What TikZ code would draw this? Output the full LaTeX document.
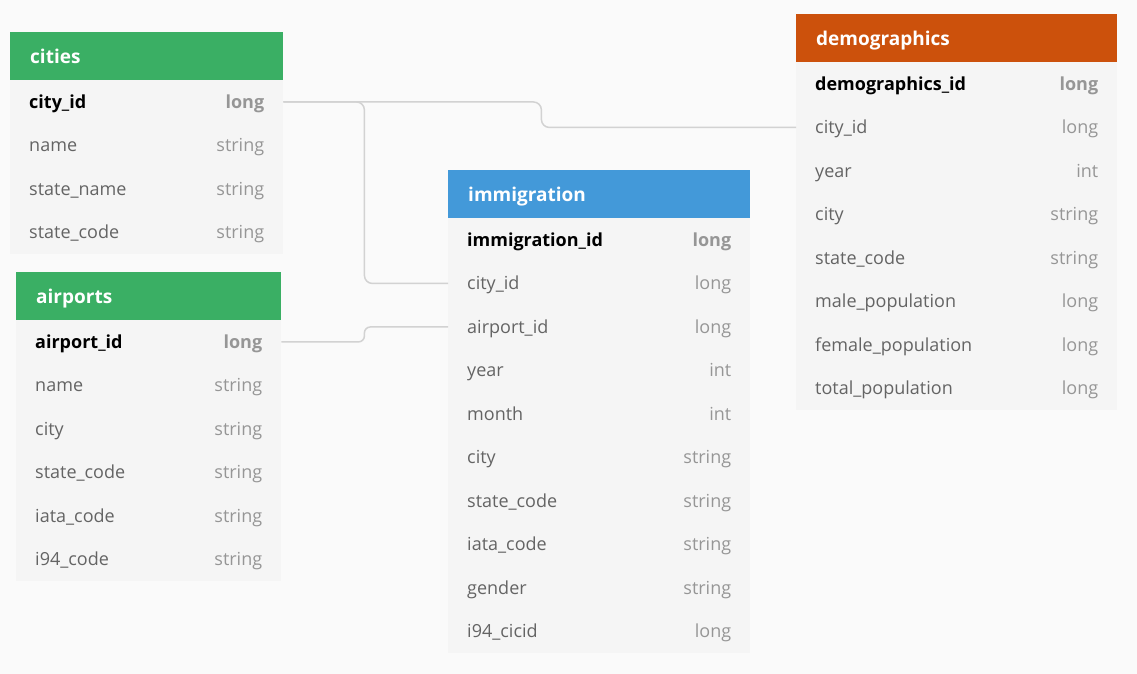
\documentclass[tikz,border=0pt]{standalone}
\usepackage{fontspec}
\setmainfont{Open Sans}
\usepackage{xcolor}
\usetikzlibrary{positioning}

\definecolor{pagebg}{HTML}{FAFAFA}
\definecolor{bodybg}{HTML}{F5F5F5}
\definecolor{greenhead}{HTML}{3AAF64}
\definecolor{bluehead}{HTML}{4399D9}
\definecolor{orangehead}{HTML}{CC510C}
\definecolor{fieldgray}{HTML}{646464}
\definecolor{typegray}{HTML}{969696}
\definecolor{linkgray}{HTML}{D2D2D2}

\newcommand{\ty}[1]{{\color{typegray}#1}}

\begin{document}
\begin{tikzpicture}[x=1pt,y=-1pt]
% Define styles
\tikzstyle{header}=[rectangle, anchor=north west, text=white, font=\fontsize{19}{22}\selectfont\bfseries, minimum height=48pt, inner xsep=20pt, inner ysep=0pt, align=left, text height=16pt, text depth=2pt]
\tikzstyle{row}=[rectangle, anchor=north west, fill=bodybg, text=fieldgray, font=\fontsize{18}{20}\selectfont, minimum height=43.5pt, inner xsep=19pt, inner ysep=0pt, align=left, text height=15pt, text depth=2pt]
\tikzstyle{pk}=[text=black, font=\fontsize{18}{20}\selectfont\bfseries]
\tikzstyle{citiesrow}=[row, minimum width=273pt, text width=235pt]
\tikzstyle{airportsrow}=[row, minimum width=265pt, text width=227pt]
\tikzstyle{immrow}=[row, minimum width=302pt, text width=264pt]
\tikzstyle{demorow}=[row, minimum width=321pt, text width=283pt]
\tikzstyle{link}=[draw=linkgray, line width=1.5pt, rounded corners=8pt]

% Page
\fill[pagebg] (0,0) rectangle (1137,674);

% cities
\node[header, fill=greenhead, text width=233pt] (cities) at (10,32) {cities};
\node[citiesrow, pk] (cities-id) at (10,80) {city\_id\hfill\ty{long}};
\node[citiesrow] (cities-name) at (10,123.5) {name\hfill\ty{string}};
\node[citiesrow] (cities-statename) at (10,167) {state\_name\hfill\ty{string}};
\node[citiesrow] (cities-statecode) at (10,210.5) {state\_code\hfill\ty{string}};

% airports
\node[header, fill=greenhead, text width=225pt] (airports) at (16,272) {airports};
\node[airportsrow, pk] (airports-id) at (16,320) {airport\_id\hfill\ty{long}};
\node[airportsrow] (airports-name) at (16,363.5) {name\hfill\ty{string}};
\node[airportsrow] (airports-city) at (16,407) {city\hfill\ty{string}};
\node[airportsrow] (airports-statecode) at (16,450.5) {state\_code\hfill\ty{string}};
\node[airportsrow] (airports-iata) at (16,494) {iata\_code\hfill\ty{string}};
\node[airportsrow] (airports-i94) at (16,537.5) {i94\_code\hfill\ty{string}};

% immigration
\node[header, fill=bluehead, text width=262pt] (imm) at (448,170) {immigration};
\node[immrow, pk] (imm-id) at (448,218) {immigration\_id\hfill\ty{long}};
\node[immrow] (imm-city) at (448,261.5) {city\_id\hfill\ty{long}};
\node[immrow] (imm-airport) at (448,305) {airport\_id\hfill\ty{long}};
\node[immrow] (imm-year) at (448,348.5) {year\hfill\ty{int}};
\node[immrow] (imm-month) at (448,392) {month\hfill\ty{int}};
\node[immrow] (imm-cityname) at (448,435.5) {city\hfill\ty{string}};
\node[immrow] (imm-statecode) at (448,479) {state\_code\hfill\ty{string}};
\node[immrow] (imm-iata) at (448,522.5) {iata\_code\hfill\ty{string}};
\node[immrow] (imm-gender) at (448,566) {gender\hfill\ty{string}};
\node[immrow] (imm-cicid) at (448,609.5) {i94\_cicid\hfill\ty{long}};

% demographics
\node[header, fill=orangehead, text width=281pt] (demo) at (796,14) {demographics};
\node[demorow, pk] (demo-id) at (796,62) {demographics\_id\hfill\ty{long}};
\node[demorow] (demo-city) at (796,105.5) {city\_id\hfill\ty{long}};
\node[demorow] (demo-year) at (796,149) {year\hfill\ty{int}};
\node[demorow] (demo-cityname) at (796,192.5) {city\hfill\ty{string}};
\node[demorow] (demo-statecode) at (796,236) {state\_code\hfill\ty{string}};
\node[demorow] (demo-male) at (796,279.5) {male\_population\hfill\ty{long}};
\node[demorow] (demo-female) at (796,323) {female\_population\hfill\ty{long}};
\node[demorow] (demo-total) at (796,366.5) {total\_population\hfill\ty{long}};

% Relations
\draw[link] (cities-id.east) -- ++(258,0) |- (demo-city.west);
\draw[link] (cities-id.east) -- ++(81,0) |- (imm-city.west);
\draw[link, rounded corners=6pt] (airports-id.east) -- ++(83,0) |- (imm-airport.west);

\end{tikzpicture}
\end{document}
